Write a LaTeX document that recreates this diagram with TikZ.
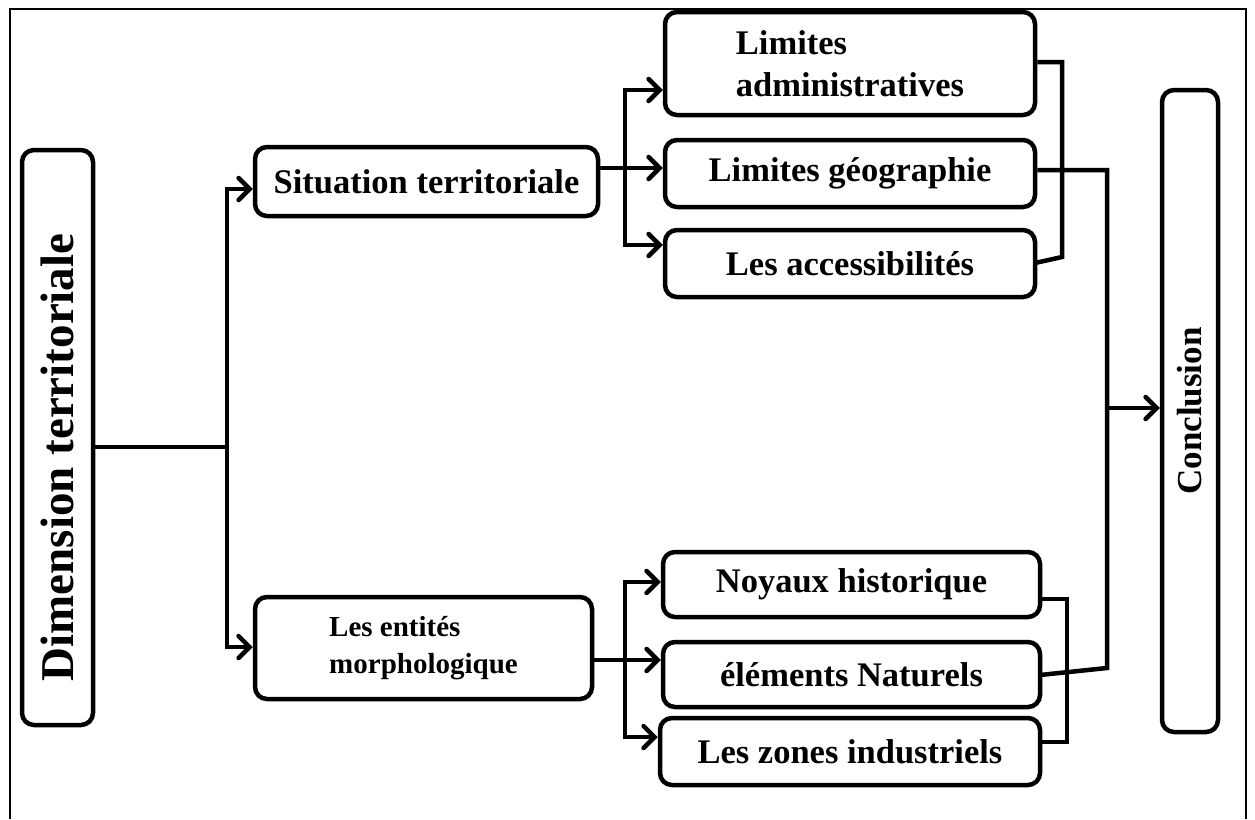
\documentclass[tikz,border=0pt]{standalone}
\usepackage{fontspec}
\setmainfont{Liberation Serif}
\usetikzlibrary{arrows.meta}
\begin{document}
\begin{tikzpicture}[x=1pt,y=-1pt,
  box/.style={draw, line width=4.5pt, rounded corners=12pt, inner sep=0pt, align=center,
    font=\bfseries\fontsize{34.5}{42}\selectfont},
  conn/.style={line width=4.5pt},
  arr/.style={conn, -{Straight Barb[length=11pt,width=22pt,line cap=round]}}]
\useasboundingbox (0,0) rectangle (1255,819);
% outer frame
\draw[line width=2pt] (10,819) -- (10,9) -- (1246,9) -- (1246,819);
% nodes
\node[box, rotate=90, minimum width=575, minimum height=71,
  font=\bfseries\fontsize{47}{50}\selectfont] (dim) at (57.5,437.5) {Dimension territoriale\hspace*{40pt}};
\node[box, minimum width=343, minimum height=69] (sit) at (426.5,181.5) {Situation territoriale};
\node[box, minimum width=337, minimum height=102, align=left,
  font=\bfseries\fontsize{29}{37}\selectfont] (ent) at (423.5,648) {Les entités\\morphologique};
\node[box, minimum width=370, minimum height=103, align=left] (adm) at (850,63.5) {Limites\\administratives};
\node[box, minimum width=370, minimum height=67] (geo) at (850,173.5) {Limites géographie};
\node[box, minimum width=370, minimum height=67] (acc) at (850,263.5) {Les accessibilités};
\node[box, minimum width=377, minimum height=65] (noy) at (851.5,584.5) {Noyaux historique};
\node[box, minimum width=377, minimum height=65] (ele) at (851.5,674.5) {éléments Naturels};
\node[box, minimum width=380, minimum height=67] (zon) at (850,751.5) {Les zones industriels};
\node[box, rotate=90, minimum width=642, minimum height=56,
  font=\bfseries\fontsize{35}{36}\selectfont] (con) at (1190,411) {Conclusion};
% junction coordinates
\coordinate (j1) at (227,447);
\coordinate (a1) at (227,189);
\coordinate (a2) at (227,647);
\coordinate (b0) at (625,168);
\coordinate (b1) at (625,90);
\coordinate (b2) at (625,245);
\coordinate (c1) at (1062,62);
\coordinate (c2) at (1062,257);
\coordinate (c3) at (1035,263);
\coordinate (d1) at (1107,170);
\coordinate (d2) at (1107,668);
\coordinate (d3) at (1040,675);
\coordinate (d4) at (1107,408);
\coordinate (e0) at (625,660);
\coordinate (e1) at (625,582);
\coordinate (e2) at (625,737);
\coordinate (f1) at (1067,599);
\coordinate (f2) at (1067,742);
% left split
\draw[conn] (dim.south |- j1) -- (j1);
\draw[arr] (j1) -- (a1) -- (sit.west |- a1);
\draw[arr] (j1) -- (a2) -- (ent.west |- a2);
% top split
\draw[arr] (sit.east |- b0) -- (geo.west |- b0);
\draw[arr] (b0) -- (b1) -- (adm.west |- b1);
\draw[arr] (b0) -- (b2) -- (acc.west |- b2);
% top bracket
\draw[conn] (adm.east |- c1) -- (c1) -- (c2) -- (c3);
% geo to conclusion
\draw[conn] (geo.east |- d1) -- (d1) -- (d2) -- (d3);
\draw[arr] (d4) -- (con.north |- d4);
% bottom split
\draw[arr] (ent.east |- e0) -- (ele.west |- e0);
\draw[arr] (e0) -- (e1) -- (noy.west |- e1);
\draw[arr] (e0) -- (e2) -- (zon.west |- e2);
% bottom bracket
\draw[conn] (noy.east |- f1) -- (f1) -- (f2) -- (zon.east |- f2);
\end{tikzpicture}
\end{document}
